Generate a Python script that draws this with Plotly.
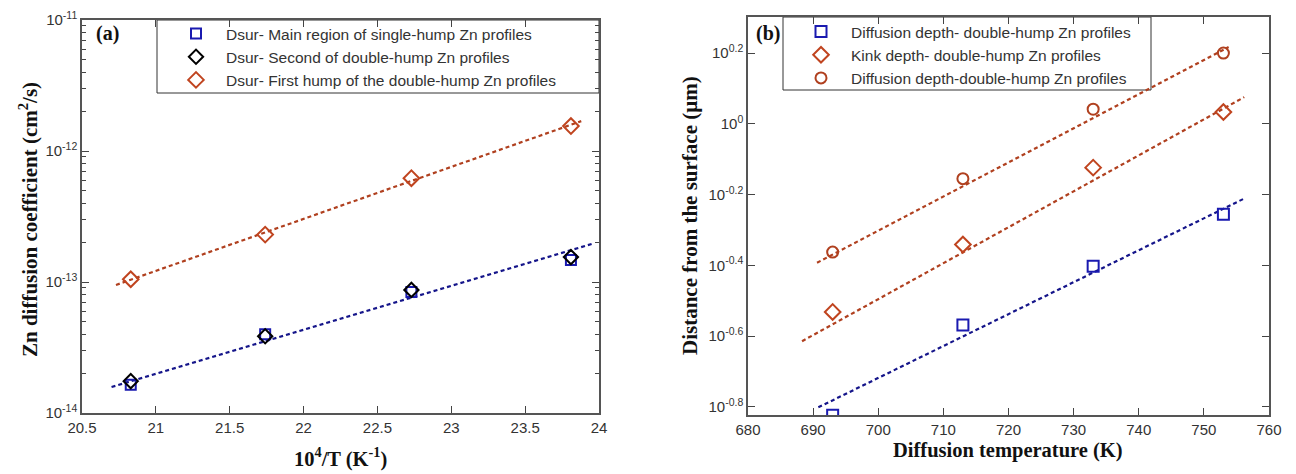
import plotly.graph_objects as go

# ---------------- data: panel (a) ----------------
inv_T = [20.83, 21.74, 22.73, 23.81]               # 10^4/T (K^-1)
d_main_single = [1.64e-14, 4.0e-14, 8.4e-14, 1.47e-13]
d_second_double = [1.75e-14, 3.85e-14, 8.7e-14, 1.55e-13]
d_first_double = [1.05e-13, 2.3e-13, 6.2e-13, 1.55e-12]
fit_first_x = [20.73, 23.88]
fit_first_y = [9.5e-14, 1.69e-12]
fit_main_x = [20.70, 23.95]
fit_main_y = [1.58e-14, 1.95e-13]
a_xticks = [20.5, 21, 21.5, 22, 22.5, 23, 23.5, 24]
a_yticks = [1e-14, 1e-13, 1e-12, 1e-11]
a_yticktext = ["10<sup>-14</sup>", "10<sup>-13</sup>", "10<sup>-12</sup>", "10<sup>-11</sup>"]

# ---------------- data: panel (b) ----------------
temp_K = [693, 713, 733, 753]
diff_depth_sq = [0.150, 0.270, 0.396, 0.555]
kink_depth = [0.294, 0.456, 0.752, 1.08]
diff_depth_circ = [0.434, 0.70, 1.10, 1.585]
fit_sq_x = [690.8, 756.2]
fit_sq_y = [0.158, 0.615]
fit_kink_x = [688.3, 756.2]
fit_kink_y = [0.243, 1.19]
fit_circ_x = [690.6, 753.8]
fit_circ_y = [0.405, 1.648]
b_xticks = [680, 690, 700, 710, 720, 730, 740, 750, 760]
b_yexp = [-0.8, -0.6, -0.4, -0.2, 0, 0.2]
b_yticktext = ["10<sup>-0.8</sup>", "10<sup>-0.6</sup>", "10<sup>-0.4</sup>",
               "10<sup>-0.2</sup>", "10<sup>0</sup>", "10<sup>0.2</sup>"]

BLUE = "#1a1ab0"
NAVY = "#15158a"
ORANGE = "#c0441f"
BROWN = "#b0401f"
DASH = "4px,3px"
W, H = 1296, 474

fig = go.Figure()

# panel (a) fits
fig.add_trace(go.Scatter(x=fit_first_x, y=fit_first_y, mode="lines", showlegend=False,
                         line=dict(color=BROWN, width=2.2, dash=DASH), xaxis="x", yaxis="y"))
fig.add_trace(go.Scatter(x=fit_main_x, y=fit_main_y, mode="lines", showlegend=False,
                         line=dict(color=NAVY, width=2.2, dash=DASH), xaxis="x", yaxis="y"))
# panel (a) markers
fig.add_trace(go.Scatter(x=inv_T, y=d_main_single, mode="markers",
                         name="Dsur- Main region of single-hump Zn profiles",
                         marker=dict(symbol="square-open", size=10, color=BLUE, line=dict(width=2, color=BLUE)),
                         xaxis="x", yaxis="y", legend="legend"))
fig.add_trace(go.Scatter(x=inv_T, y=d_second_double, mode="markers",
                         name="Dsur- Second of double-hump Zn profiles",
                         marker=dict(symbol="diamond-open", size=11, color="black", line=dict(width=2, color="black")),
                         xaxis="x", yaxis="y", legend="legend"))
fig.add_trace(go.Scatter(x=inv_T, y=d_first_double, mode="markers",
                         name="Dsur- First hump of the double-hump Zn profiles",
                         marker=dict(symbol="diamond-open", size=12, color=ORANGE, line=dict(width=2, color=ORANGE)),
                         xaxis="x", yaxis="y", legend="legend"))

# panel (b) fits
fig.add_trace(go.Scatter(x=fit_sq_x, y=fit_sq_y, mode="lines", showlegend=False,
                         line=dict(color=NAVY, width=2.2, dash=DASH), xaxis="x2", yaxis="y2"))
fig.add_trace(go.Scatter(x=fit_kink_x, y=fit_kink_y, mode="lines", showlegend=False,
                         line=dict(color=BROWN, width=2.2, dash=DASH), xaxis="x2", yaxis="y2"))
fig.add_trace(go.Scatter(x=fit_circ_x, y=fit_circ_y, mode="lines", showlegend=False,
                         line=dict(color=BROWN, width=2.2, dash=DASH), xaxis="x2", yaxis="y2"))
# panel (b) markers
fig.add_trace(go.Scatter(x=temp_K, y=diff_depth_sq, mode="markers",
                         name="Diffusion depth- double-hump Zn profiles",
                         marker=dict(symbol="square-open", size=11, color=BLUE, line=dict(width=2, color=BLUE)),
                         xaxis="x2", yaxis="y2", legend="legend2"))
fig.add_trace(go.Scatter(x=temp_K, y=kink_depth, mode="markers",
                         name="Kink depth- double-hump Zn profiles",
                         marker=dict(symbol="diamond-open", size=12, color=ORANGE, line=dict(width=2, color=ORANGE)),
                         xaxis="x2", yaxis="y2", legend="legend2"))
fig.add_trace(go.Scatter(x=temp_K, y=diff_depth_circ, mode="markers",
                         name="Diffusion depth-double-hump Zn profiles",
                         marker=dict(symbol="circle-open", size=11, color=BROWN, line=dict(width=2, color=BROWN)),
                         xaxis="x2", yaxis="y2", legend="legend2"))


def px(x):
    return x / W


def py(y):
    return 1 - y / H


TICKFONT = dict(family="Liberation Sans, Arial", size=15, color="#333")
axis_common = dict(showline=True, linecolor="#555", linewidth=1.5, mirror="allticks",
                   ticks="inside", ticklen=7, tickcolor="#444", tickwidth=1,
                   showgrid=False, zeroline=False, tickfont=TICKFONT, automargin=False)

minor_a = []
for dec in [-14, -13, -12]:
    for m in range(2, 10):
        minor_a.append(m * 10.0 ** dec)

LEGFONT = dict(family="Liberation Sans, Arial", size=15.5, color="#333")

fig.update_layout(
    width=W, height=H,
    margin=dict(l=0, r=0, t=0, b=0),
    paper_bgcolor="white", plot_bgcolor="white",
    xaxis=dict(domain=[px(82), px(599)], range=[20.5, 24], tickvals=a_xticks,
               ticktext=[("%g" % v) for v in a_xticks], anchor="y", **axis_common),
    yaxis=dict(domain=[py(413), py(20)], type="log", range=[-14, -11], tickvals=a_yticks,
               ticktext=a_yticktext, anchor="x",
               minor=dict(tickvals=minor_a, ticks="inside", ticklen=4, tickcolor="#444"),
               **axis_common),
    xaxis2=dict(domain=[px(748), px(1269)], range=[680, 760], tickvals=b_xticks,
                anchor="y2", **axis_common),
    yaxis2=dict(domain=[py(415), py(17)], type="log", range=[-0.823, 0.302],
                tickvals=[10 ** e for e in b_yexp], ticktext=b_yticktext, anchor="x2",
                **axis_common),
    legend=dict(x=px(166), y=py(17), xanchor="left", yanchor="top",
                borderwidth=0, bgcolor="rgba(0,0,0,0)", font=LEGFONT,
                tracegroupgap=0, itemwidth=50),
    legend2=dict(x=px(791), y=py(15), xanchor="left", yanchor="top",
                 borderwidth=0, bgcolor="rgba(0,0,0,0)", font=LEGFONT,
                 tracegroupgap=0, itemwidth=50),
    shapes=[
        dict(type="rect", xref="paper", yref="paper", x0=px(157), x1=px(599), y0=py(93), y1=py(20),
             line=dict(color="#333", width=1), fillcolor="white", layer="below"),
        dict(type="rect", xref="paper", yref="paper", x0=px(783), x1=px(1151), y0=py(90), y1=py(17),
             line=dict(color="#333", width=1), fillcolor="white", layer="below"),
    ],
)

TITLEFONT = dict(family="Liberation Serif, Times New Roman", size=21, color="#111")
XTITLEFONT = dict(family="Liberation Serif, Times New Roman", size=20.5, color="#111")
annotations = [
    dict(text="<b>(a)</b>", x=px(94), y=py(33), xanchor="left", yanchor="middle",
         font=dict(family="Liberation Serif", size=20, color="#111")),
    dict(text="<b>(b)</b>", x=px(754), y=py(33), xanchor="left", yanchor="middle",
         font=dict(family="Liberation Serif", size=20, color="#111")),
    dict(text="<b>Zn diffusion coefficient (cm<sup>2</sup>/s)</b>", x=px(28), y=py(220),
         textangle=-90, xanchor="center", yanchor="middle", font=TITLEFONT),
    dict(text="<b>Distance from the surface (µm)</b>", x=px(690), y=py(216),
         textangle=-90, xanchor="center", yanchor="middle", font=TITLEFONT),
    dict(text="<b>10<sup>4</sup>/T (K<sup>-1</sup>)</b>", x=px(340), y=py(457),
         xanchor="center", yanchor="middle", font=XTITLEFONT),
    dict(text="<b>Diffusion temperature (K)</b>", x=px(1008), y=py(450),
         xanchor="center", yanchor="middle", font=XTITLEFONT),
]
for a in annotations:
    a.update(xref="paper", yref="paper", showarrow=False)
fig.update_layout(annotations=annotations)

fig.write_html("out.html")
